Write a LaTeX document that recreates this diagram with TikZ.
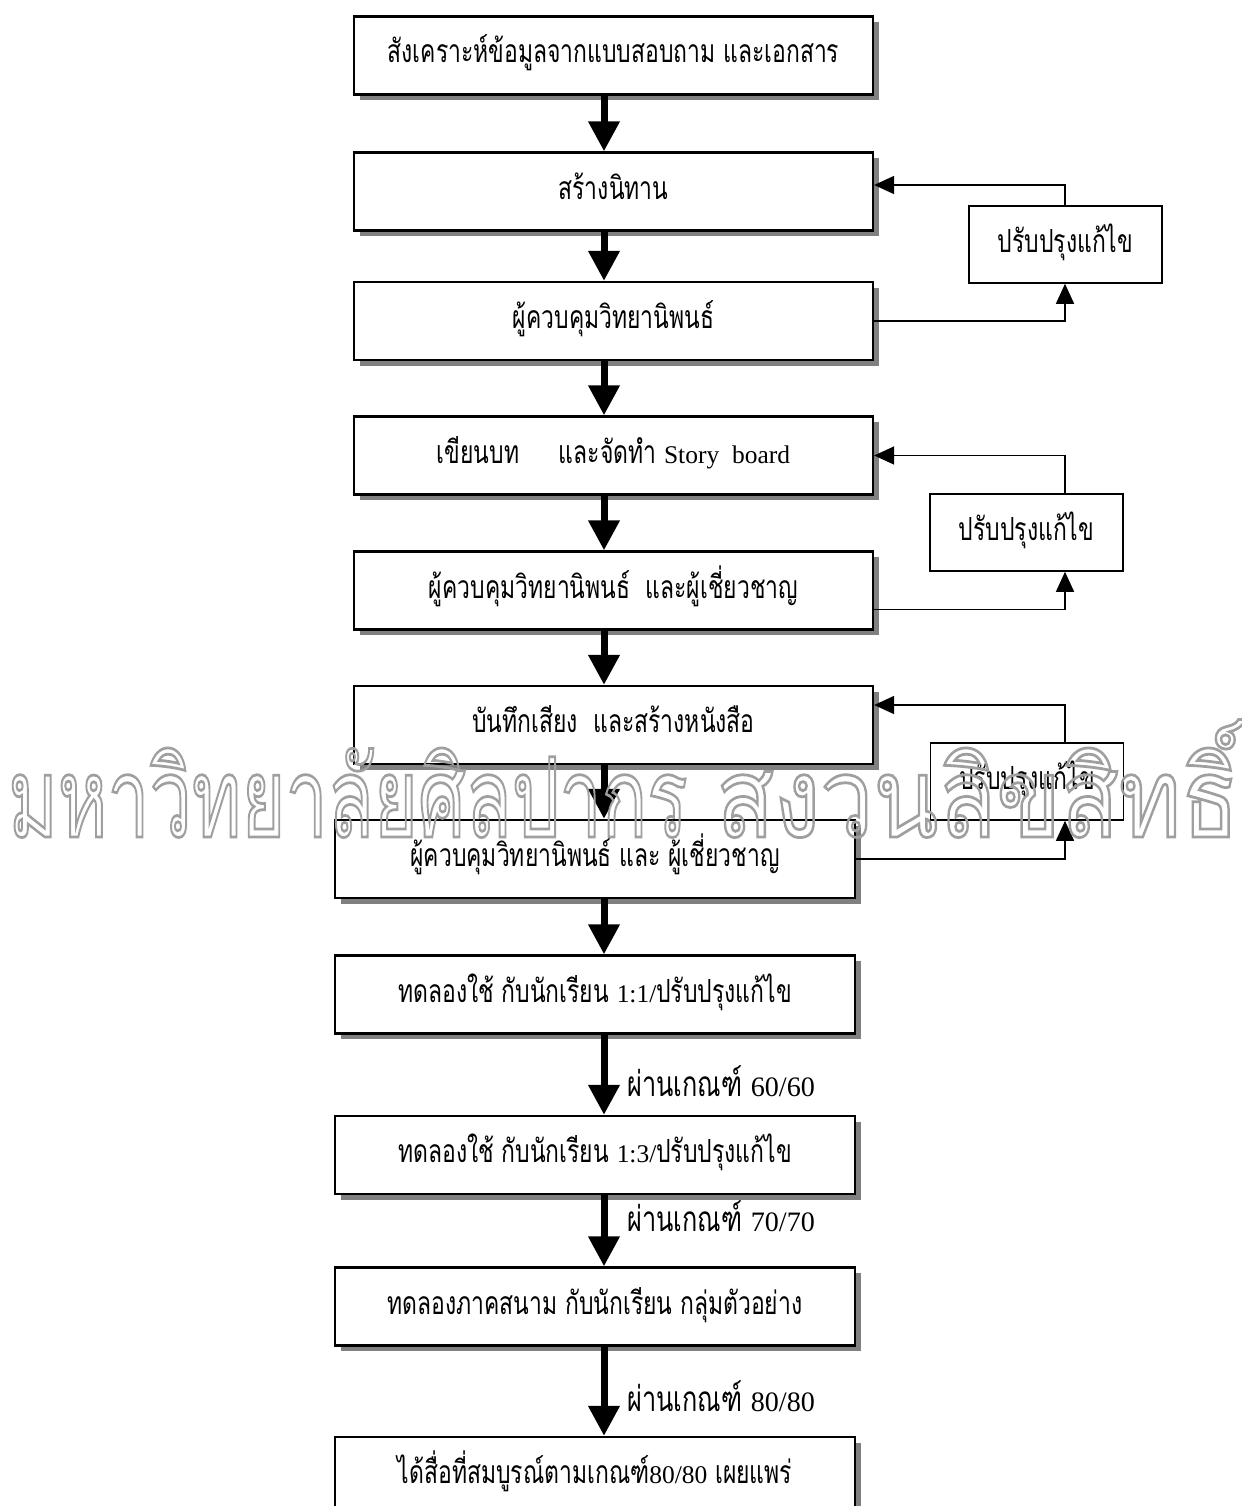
\documentclass[tikz,border=0pt]{standalone}
\usepackage{graphicx}
\usepackage{fontspec}
\setmainfont{Liberation Serif}
\newfontfamily\thai[Script=Thai,FakeStretch=0.72,Scale=1.25]{Loma}
\newfontfamily\wmfont[Script=Thai]{Loma}
\usetikzlibrary{arrows.meta,shadows}
\newcommand\lat[1]{{\rmfamily #1}}
\newcommand\hollow[1]{\special{pdf:literal direct 1 Tr 0.25 w}#1\vphantom{ธิ์}\special{pdf:literal direct 0 Tr}}
\tikzset{
	stepbox/.style={draw, line width=1.3pt, fill=white, minimum width=10.38cm, minimum height=1.56cm,
		text height=0.42cm, text depth=0.12cm, inner sep=0pt, font=\fontsize{14.5}{17}\selectfont\thai,
		drop shadow={shadow xshift=1.1mm, shadow yshift=-1.1mm, fill=gray, opacity=1}},
	fixbox/.style={draw, line width=0.9pt, fill=white, minimum width=3.86cm, minimum height=1.54cm,
		text height=0.42cm, text depth=0.12cm, inner sep=0pt, font=\fontsize{14.5}{17}\selectfont\thai},
	bigarrow/.style={line width=0.14cm, -{Triangle[width=0.6cm,length=0.6cm]}},
	backline/.style={line width=0.9pt, -{Triangle[width=0.36cm,length=0.4cm]}},
	passlabel/.style={anchor=west, inner sep=0pt, xshift=0.4cm, font=\fontsize{16}{19}\selectfont\thai},
	wmark/.style={anchor=base west, inner sep=0pt, text=gray!75}
}
\begin{document}
\begin{tikzpicture}[x=0.2mm, y=-0.2mm]
	\useasboundingbox (0, 0) rectangle (1241, 1506);
	\coordinate (ax) at (604, 0);
	\coordinate (fx) at (1065, 0);

	\node [stepbox] at (613.5, 55.5) (b1) {สังเคราะห์ข้อมูลจากแบบสอบถาม และเอกสาร};
	\node [stepbox] at (613.5, 191.5) (b2) {สร้างนิทาน};
	\node [stepbox] at (613.5, 321) (b3) {ผู้ควบคุมวิทยานิพนธ์};
	\node [stepbox] at (613.5, 455.5) (b4) {เขียนบท\quad\ และจัดทำ \lat{Story\ \ board}};
	\node [stepbox] at (613.5, 590.5) (b5) {ผู้ควบคุมวิทยานิพนธ์\ \ และผู้เชี่ยวชาญ};
	\node [stepbox] at (613.5, 725) (b6) {บันทึกเสียง\ \ และสร้างหนังสือ};
	\node [stepbox, minimum width=10.4cm] at (595, 859) (b7) {ผู้ควบคุมวิทยานิพนธ์ และ ผู้เชี่ยวชาญ};
	\node [stepbox, minimum width=10.4cm] at (595, 994.5) (b8) {ทดลองใช้ กับนักเรียน \lat{1:1/}ปรับปรุงแก้ไข};
	\node [stepbox, minimum width=10.4cm] at (595, 1155) (b9) {ทดลองใช้ กับนักเรียน \lat{1:3/}ปรับปรุงแก้ไข};
	\node [stepbox, minimum width=10.4cm] at (595, 1306.5) (b10) {ทดลองภาคสนาม กับนักเรียน กลุ่มตัวอย่าง};
	\node [stepbox, minimum width=10.4cm] at (595, 1476) (b11) {ได้สื่อที่สมบูรณ์ตามเกณฑ์\lat{80/80} เผยแพร่};

	\node [fixbox] at (1065.5, 244.5) (s1) {ปรับปรุงแก้ไข};
	\node [fixbox] at (1026.5, 532.5) (s2) {ปรับปรุงแก้ไข};
	\node [fixbox] at (1027, 781.5) (s3) {ปรับปรุงแก้ไข};

	\draw [bigarrow] (b1.south -| ax) -- (b2.north -| ax);
	\draw [bigarrow] (b2.south -| ax) -- (b3.north -| ax);
	\draw [bigarrow] (b3.south -| ax) -- (b4.north -| ax);
	\draw [bigarrow] (b4.south -| ax) -- (b5.north -| ax);
	\draw [bigarrow] (b5.south -| ax) -- (b6.north -| ax);
	\draw [bigarrow] (b6.south -| ax) -- (b7.north -| ax);
	\draw [bigarrow] (b7.south -| ax) -- (b8.north -| ax);
	\draw [bigarrow] (b8.south -| ax) -- node[passlabel, pos=0.58] {ผ่านเกณฑ์ \lat{60/60}} (b9.north -| ax);
	\draw [bigarrow] (b9.south -| ax) -- node[passlabel, pos=0.3] {ผ่านเกณฑ์ \lat{70/70}} (b10.north -| ax);
	\draw [bigarrow] (b10.south -| ax) -- node[passlabel, pos=0.56] {ผ่านเกณฑ์ \lat{80/80}} (b11.north -| ax);

	\draw [backline] (b3.east) -| (s1.south -| fx);
	\draw [backline] (s1.north -| fx) |- ([yshift=0.13cm]b2.east);
	\draw [backline] ([yshift=-0.38cm]b5.east) -| (s2.south -| fx);
	\draw [backline] (s2.north -| fx) |- (b4.east);
	\draw [backline] (b7.east) -| (s3.south -| fx);
	\draw [backline] (s3.north -| fx) |- ([yshift=0.4cm]b6.east);

	\node [wmark] at (8, 837) (wm1) {\resizebox{13.58cm}{2.35cm}{\wmfont\hollow{มหาวิทยาลัยศิลปากร}}};
	\node [wmark] at (716, 837) (wm2) {\resizebox{10.45cm}{2.35cm}{\wmfont\hollow{สงวนลิขสิทธิ์}}};
\end{tikzpicture}
\end{document}
